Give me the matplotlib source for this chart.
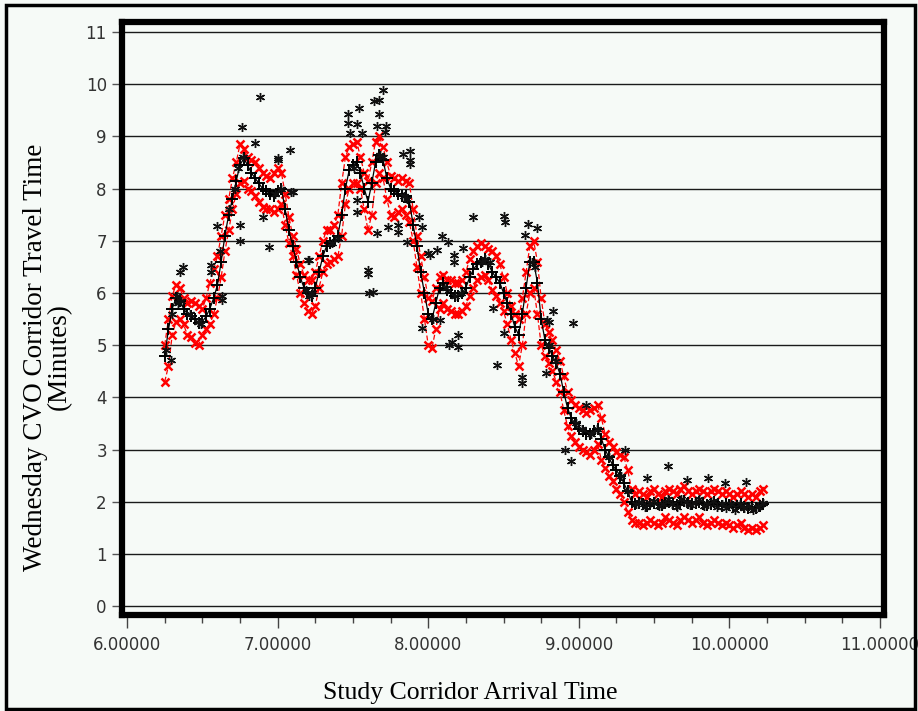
import matplotlib
matplotlib.use("Agg")
import matplotlib.pyplot as plt
from matplotlib.patches import Rectangle
from matplotlib.ticker import MultipleLocator, FormatStrFormatter

# arrival time (decimal hours)
arrival = [
    6.250, 6.275, 6.300, 6.325, 6.350, 6.375, 6.400, 6.425,
    6.450, 6.475, 6.500, 6.525, 6.550, 6.575, 6.600, 6.625,
    6.650, 6.675, 6.700, 6.725, 6.750, 6.775, 6.800, 6.825,
    6.850, 6.875, 6.900, 6.925, 6.950, 6.975, 7.000, 7.025,
    7.050, 7.075, 7.100, 7.125, 7.150, 7.175, 7.200, 7.225,
    7.250, 7.275, 7.300, 7.325, 7.350, 7.375, 7.400, 7.425,
    7.450, 7.475, 7.500, 7.525, 7.550, 7.575, 7.600, 7.625,
    7.650, 7.675, 7.700, 7.725, 7.750, 7.775, 7.800, 7.825,
    7.850, 7.875, 7.900, 7.925, 7.950, 7.975, 8.000, 8.025,
    8.050, 8.075, 8.100, 8.125, 8.150, 8.175, 8.200, 8.225,
    8.250, 8.275, 8.300, 8.325, 8.350, 8.375, 8.400, 8.425,
    8.450, 8.475, 8.500, 8.525, 8.550, 8.575, 8.600, 8.625,
    8.650, 8.675, 8.700, 8.725, 8.750, 8.775, 8.800, 8.825,
    8.850, 8.875, 8.900, 8.925, 8.950, 8.975, 9.000, 9.025,
    9.050, 9.075, 9.100, 9.125, 9.150, 9.175, 9.200, 9.225,
    9.250, 9.275, 9.300, 9.325, 9.350, 9.375, 9.400, 9.425,
    9.450, 9.475, 9.500, 9.525, 9.550, 9.575, 9.600, 9.625,
    9.650, 9.675, 9.700, 9.725, 9.750, 9.775, 9.800, 9.825,
    9.850, 9.875, 9.900, 9.925, 9.950, 9.975, 10.000, 10.025,
    10.050, 10.075, 10.100, 10.125, 10.150, 10.175, 10.200, 10.225,
]

# smoothed travel time (minutes)
mean_tt = [
    4.8, 5.3, 5.7, 5.9, 5.85, 5.7, 5.6, 5.55,
    5.5, 5.42, 5.45, 5.55, 5.7, 5.9, 6.15, 6.6,
    7.1, 7.5, 7.8, 8.15, 8.45, 8.58, 8.45, 8.3,
    8.2, 8.1, 8.0, 7.95, 7.9, 7.85, 7.95, 8.0,
    7.6, 7.2, 6.9, 6.6, 6.3, 6.1, 6.0, 5.95,
    6.1, 6.4, 6.7, 6.9, 6.95, 7.0, 7.1, 7.5,
    8.0, 8.35, 8.45, 8.5, 8.3, 8.0, 7.75, 8.1,
    8.5, 8.65, 8.55, 8.2, 8.0, 7.95, 7.9, 7.85,
    7.85, 7.75, 7.3, 6.9, 6.4, 6.0, 5.6, 5.5,
    5.8, 6.1, 6.2, 6.05, 6.0, 5.95, 5.95, 6.0,
    6.1, 6.3, 6.45, 6.55, 6.6, 6.65, 6.55, 6.4,
    6.3, 6.2, 6.0, 5.8, 5.6, 5.35, 5.2, 5.6,
    6.1, 6.6, 6.6, 6.2, 5.5, 5.1, 4.95, 4.8,
    4.65, 4.45, 4.1, 3.8, 3.6, 3.5, 3.4, 3.35,
    3.3, 3.3, 3.35, 3.4, 3.2, 3.0, 2.85, 2.7,
    2.6, 2.5, 2.35, 2.2, 2.0, 1.95, 1.97, 1.95,
    1.92, 1.96, 1.98, 1.95, 1.93, 1.97, 1.99, 1.96,
    1.94, 2.0, 2.02, 1.97, 1.95, 1.98, 2.0, 1.96,
    1.93, 1.96, 1.99, 1.95, 1.92, 1.95, 1.93, 1.9,
    1.92, 1.95, 1.9, 1.88, 1.9, 1.88, 1.92, 1.95,
]

upper_tt = [
    5.0, 5.5, 5.95, 6.15, 6.1, 5.9, 5.8, 5.85,
    5.8, 5.75, 5.7, 5.9, 6.2, 6.45, 6.7, 7.1,
    7.5, 7.8, 8.2, 8.5, 8.85, 8.75, 8.6, 8.55,
    8.5, 8.4, 8.3, 8.25, 8.2, 8.3, 8.4, 8.3,
    7.9, 7.45, 7.1, 6.85, 6.55, 6.35, 6.25, 6.25,
    6.4, 6.7, 7.0, 7.2, 7.2, 7.3, 7.5, 8.1,
    8.6, 8.8, 8.85, 8.9, 8.6, 8.3, 8.15, 8.5,
    8.9, 9.0, 8.8, 8.5, 8.25, 8.2, 8.15, 8.2,
    8.15, 8.1, 7.6, 7.1, 6.7, 6.3, 5.9, 5.85,
    6.1, 6.3, 6.35, 6.25, 6.25, 6.2, 6.2, 6.25,
    6.4, 6.65, 6.8, 6.9, 6.95, 6.9, 6.85, 6.8,
    6.7, 6.55, 6.3, 6.0, 5.75, 5.6, 5.5, 5.9,
    6.4, 6.9, 7.0, 6.6, 5.9, 5.4, 5.25, 5.1,
    4.9, 4.7, 4.4, 4.1, 3.95, 3.85, 3.8, 3.75,
    3.7, 3.75, 3.8, 3.85, 3.6, 3.3, 3.15, 3.05,
    2.95, 2.9, 2.85, 2.6, 2.25, 2.15, 2.2, 2.15,
    2.1, 2.2, 2.25, 2.15, 2.1, 2.2, 2.25, 2.2,
    2.15, 2.25, 2.3, 2.2, 2.15, 2.2, 2.25, 2.2,
    2.15, 2.2, 2.25, 2.2, 2.15, 2.2, 2.15, 2.1,
    2.15, 2.2, 2.15, 2.1, 2.15, 2.1, 2.2, 2.25,
]

lower_tt = [
    4.3, 4.6, 5.2, 5.45, 5.5, 5.4, 5.2, 5.15,
    5.05, 5.0, 5.2, 5.3, 5.4, 5.6, 5.9, 6.3,
    6.8, 7.2, 7.6, 7.9, 8.1, 8.15, 8.0, 7.95,
    7.85, 7.75, 7.65, 7.6, 7.6, 7.55, 7.6, 7.7,
    7.3, 6.95, 6.7, 6.35, 6.0, 5.8, 5.65, 5.6,
    5.75, 6.1, 6.4, 6.55, 6.6, 6.65, 6.7, 7.1,
    7.7, 8.0, 8.1, 8.1, 8.0, 7.6, 7.2, 7.5,
    8.1, 8.3, 8.2, 7.8, 7.5, 7.45, 7.55, 7.6,
    7.5, 7.35, 7.0, 6.5, 6.0, 5.5, 5.0, 4.95,
    5.3, 5.7, 5.8, 5.7, 5.65, 5.6, 5.6, 5.65,
    5.75, 5.95, 6.1, 6.25, 6.3, 6.35, 6.25, 6.05,
    5.95, 5.8, 5.65, 5.4, 5.1, 4.85, 4.6, 5.0,
    5.6, 6.0, 6.1, 5.6, 5.0, 4.8, 4.65, 4.5,
    4.3, 4.1, 3.75, 3.45, 3.25, 3.15, 3.05, 3.0,
    2.95, 2.9, 3.0, 3.1, 2.8, 2.65, 2.5, 2.4,
    2.25, 2.15, 2.0, 1.8, 1.65, 1.6, 1.6, 1.55,
    1.6, 1.65, 1.6, 1.55, 1.6, 1.7, 1.65, 1.6,
    1.55, 1.65, 1.7, 1.65, 1.6, 1.65, 1.7, 1.6,
    1.55, 1.6, 1.65, 1.6, 1.55, 1.6, 1.55, 1.5,
    1.55, 1.6, 1.5, 1.45, 1.5, 1.45, 1.5, 1.55,
]

# individual vehicle observations
obs_t = [
    6.26, 6.29, 6.30, 6.33, 6.34, 6.35, 6.36, 6.37, 6.42, 6.47, 6.49,
    6.56, 6.56, 6.60, 6.62, 6.63, 6.63, 6.68, 6.72, 6.74, 6.75, 6.75,
    6.76, 6.77, 6.85, 6.88, 6.90, 6.94, 6.98, 7.00, 7.00, 7.02, 7.08,
    7.09, 7.10, 7.19, 7.20, 7.21, 7.21, 7.23, 7.36, 7.40, 7.47, 7.47,
    7.48, 7.51, 7.53, 7.53, 7.53, 7.54, 7.56, 7.60, 7.60, 7.61, 7.63,
    7.64, 7.66, 7.66, 7.67, 7.67, 7.68, 7.70, 7.70, 7.71, 7.72, 7.73,
    7.80, 7.80, 7.83, 7.84, 7.86, 7.86, 7.88, 7.88, 7.88, 7.94, 7.96,
    7.96, 8.00, 8.01, 8.03, 8.06, 8.08, 8.09, 8.12, 8.13, 8.14, 8.16,
    8.17, 8.17, 8.18, 8.20, 8.20, 8.22, 8.23, 8.30, 8.36, 8.38, 8.41,
    8.43, 8.46, 8.50, 8.50, 8.51, 8.62, 8.62, 8.64, 8.66, 8.69, 8.71,
    8.72, 8.78, 8.79, 8.80, 8.80, 8.83, 8.85, 8.91, 8.95, 8.96, 8.98,
    9.02, 9.05, 9.08, 9.12, 9.20, 9.28, 9.31, 9.33, 9.38, 9.41, 9.44,
    9.45, 9.47, 9.50, 9.53, 9.56, 9.59, 9.59, 9.62, 9.65, 9.68, 9.71,
    9.72, 9.74, 9.77, 9.80, 9.83, 9.86, 9.86, 9.89, 9.92, 9.95, 9.97,
    9.98, 10.01, 10.04, 10.07, 10.10, 10.11, 10.13, 10.16, 10.19, 10.22,
]
obs_v = [
    4.9, 4.71, 5.6, 5.95, 5.8, 6.4, 5.85, 6.5, 5.6, 5.45, 5.4,
    6.54, 6.4, 7.28, 6.8, 5.86, 5.95, 7.6, 8.0, 8.4, 7.3, 7.0,
    9.18, 8.6, 8.87, 9.75, 7.46, 6.88, 7.9, 8.58, 8.55, 8.0, 8.74,
    7.93, 7.93, 6.05, 6.63, 5.95, 6.63, 6.0, 6.95, 7.05, 9.43, 9.26,
    9.07, 8.4, 7.78, 7.55, 9.24, 9.54, 9.07, 6.44, 6.37, 6.0, 6.02,
    9.68, 9.2, 7.15, 9.43, 9.7, 8.65, 9.89, 8.6, 9.08, 9.2, 7.26,
    7.17, 7.3, 8.66, 7.85, 6.98, 7.8, 8.72, 8.55, 8.47, 7.45, 7.26,
    5.33, 6.76, 6.73, 5.5, 6.82, 5.48, 7.09, 6.1, 6.98, 5.0, 5.06,
    6.73, 6.6, 5.95, 5.19, 4.97, 6.0, 6.86, 7.46, 6.6, 6.65, 6.6,
    5.71, 4.62, 7.47, 5.23, 7.36, 4.39, 4.27, 7.11, 7.32, 6.6, 6.5,
    7.24, 4.46, 5.48, 5.0, 5.44, 5.65, 4.7, 2.99, 2.78, 5.42, 3.5,
    3.4, 3.85, 3.3, 3.4, 2.85, 2.5, 2.99, 2.2, 1.95, 2.0, 1.9,
    2.45, 1.98, 2.02, 1.92, 1.95, 2.05, 2.68, 1.95, 1.9, 2.05, 2.0,
    2.41, 1.93, 1.98, 2.05, 1.92, 1.95, 2.45, 2.02, 1.9, 1.96, 2.36,
    1.88, 1.95, 1.85, 1.95, 1.88, 2.38, 1.92, 1.85, 1.9, 1.98,
]

bg = "#f6faf7"
fig = plt.figure(figsize=(9.18, 7.11), dpi=100, facecolor=bg)
ax = fig.add_axes([0.133, 0.135, 0.830, 0.834], facecolor=bg)

# horizontal grid lines
for v in range(0, 12):
    ax.axhline(v, color="#1a1a1a", lw=1.0, zorder=1)

ax.plot(arrival, upper_tt, color="red", lw=0.9, ls=(0, (4, 2)),
        marker="x", ms=6, mew=1.8, zorder=2)
ax.plot(arrival, lower_tt, color="red", lw=0.9, ls=(0, (4, 2)),
        marker="x", ms=6, mew=1.8, zorder=2)
ax.plot(arrival, mean_tt, color="black", lw=0.9,
        marker="+", ms=8, mew=1.4, zorder=3)
ax.plot(obs_t, obs_v, ls="none", marker=(6, 2, 0), ms=6.5, mew=1.0,
        color="#111111", zorder=4)

ax.set_xlim(5.967, 11.027)
ax.set_ylim(-0.17, 11.19)
ax.xaxis.set_major_locator(MultipleLocator(1.0))
ax.xaxis.set_minor_locator(MultipleLocator(0.25))
ax.xaxis.set_major_formatter(FormatStrFormatter("%.5f"))
ax.set_yticks(range(0, 12))

for s in ax.spines.values():
    s.set_linewidth(4.5)
    s.set_color("black")

ax.tick_params(axis="x", which="major", direction="out", length=9, width=1,
               color="#444444", labelsize=12, labelcolor="#333333", pad=6)
ax.tick_params(axis="x", which="minor", direction="out", length=6, width=1,
               color="#444444")
ax.tick_params(axis="y", direction="out", length=7, width=1, color="#555555",
               labelsize=12, labelcolor="#333333", pad=4)

serif = ["Liberation Serif", "DejaVu Serif"]
fig.text(0.512, 0.026, "Study Corridor Arrival Time", family=serif,
         fontsize=18.5, ha="center", va="center")
fig.text(0.052, 0.498, "Wednesday CVO Corridor Travel Time\n(Minutes)",
         family=serif, fontsize=19.5, rotation=90, ha="center", va="center",
         multialignment="center", linespacing=0.95)

# outer picture border
fig.patches.append(Rectangle((0.006, 0.003), 0.991, 0.990,
                             transform=fig.transFigure, fill=False,
                             lw=2.5, ec="black"))

fig.savefig("out.png", dpi=100, facecolor=bg)
